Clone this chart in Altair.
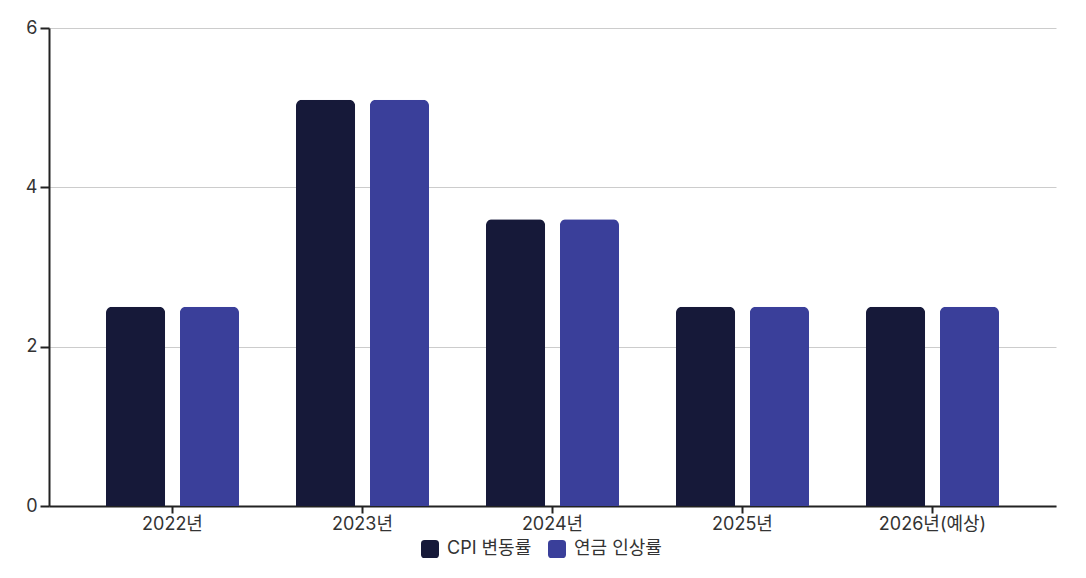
import altair as alt
import pandas as pd

years = ["2022년", "2023년", "2024년", "2025년", "2026년(예상)"]
series = ["CPI 변동률", "연금 인상률"]
cpi = [2.5, 5.1, 3.6, 2.5, 2.5]
pension = [2.5, 5.1, 3.6, 2.5, 2.5]
colors = ["#161939", "#3a3f9a"]

rows = []
for i, y in enumerate(years):
    rows.append({"year": y, "series": series[0], "value": cpi[i]})
    rows.append({"year": y, "series": series[1], "value": pension[i]})
df = pd.DataFrame(rows)

FONT = "Inter, 'Noto Sans CJK KR', sans-serif"
rounded_square = ("M-0.6,-1 L0.6,-1 Q1,-1 1,-0.6 L1,0.6 Q1,1 0.6,1 "
                  "L-0.6,1 Q-1,1 -1,0.6 L-1,-0.6 Q-1,-1 -0.6,-1 Z")

chart = alt.Chart(df).mark_bar(
    cornerRadiusTopLeft=6, cornerRadiusTopRight=6
).encode(
    x=alt.X("year:N", sort=years, title=None,
            scale=alt.Scale(paddingInner=0.3, paddingOuter=0.3),
            axis=alt.Axis(labelAngle=0, labelFontSize=18, labelColor="#333333",
                          labelFont=FONT, domainColor="#222222", domainWidth=2,
                          tickColor="#222222", tickWidth=2, tickSize=7,
                          labelPadding=2)),
    xOffset=alt.XOffset("series:N", sort=series,
                        scale=alt.Scale(paddingInner=0.2, paddingOuter=0)),
    y=alt.Y("value:Q", title=None,
            scale=alt.Scale(domain=[0, 6]),
            axis=alt.Axis(values=[0, 2, 4, 6], labelFontSize=18, labelColor="#333333",
                          labelFont=FONT, domainColor="#222222", domainWidth=2,
                          tickColor="#222222", tickWidth=2, tickSize=9,
                          labelPadding=3, gridColor="#cccccc", gridWidth=1)),
    color=alt.Color("series:N", sort=series,
                    scale=alt.Scale(domain=series, range=colors),
                    legend=alt.Legend(title=None, orient="none", direction="horizontal",
                                      legendX=372, legendY=512,
                                      symbolType=rounded_square, symbolSize=324,
                                      symbolStrokeWidth=0, labelFontSize=18,
                                      labelFont=FONT, labelColor="#333333",
                                      labelOffset=8, columnPadding=16)),
).properties(
    width=1007, height=478,
    autosize=alt.AutoSizeParams(type="none"),
    padding={"left": 41, "top": 20, "right": 22, "bottom": 60},
).configure(font=FONT, background="white").configure_view(stroke=None)

chart.save("out.html", embed_options={"renderer": "svg", "actions": False})
